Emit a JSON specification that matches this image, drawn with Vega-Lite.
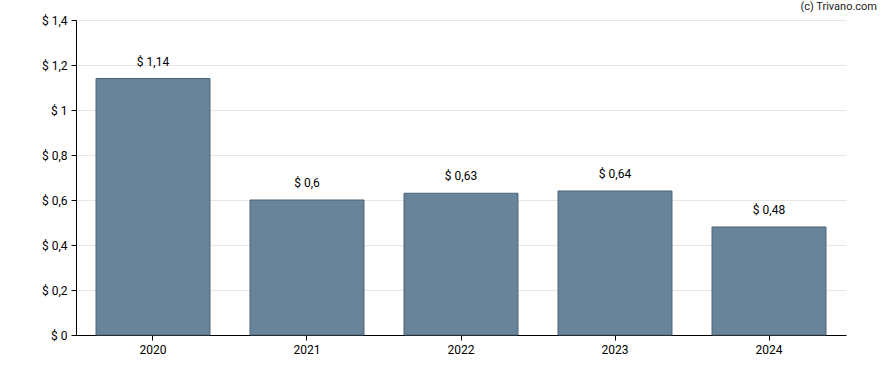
{
  "$schema": "https://vega.github.io/schema/vega-lite/v6.json",
  "width": 770,
  "height": 315,
  "autosize": {"type": "none"},
  "padding": {"left": 76, "top": 20, "right": 42, "bottom": 35},
  "title": {"text": "(c) Trivano.com", "anchor": "end", "dx": 31, "offset": 2, "fontSize": 11, "fontWeight": "normal", "font": "Roboto", "color": "#222222"},
  "data": {"values": [
    {"year": "2020", "value": 1.14},
    {"year": "2021", "value": 0.6},
    {"year": "2022", "value": 0.63},
    {"year": "2023", "value": 0.64},
    {"year": "2024", "value": 0.48}
  ]},
  "encoding": {
    "x": {"field": "year", "type": "nominal", "scale": {"paddingInner": 0.26, "paddingOuter": 0.13},
      "axis": {"title": null, "labelAngle": 0, "domainColor": "#000000", "tickColor": "#000000", "tickSize": 5, "labelFontSize": 12, "labelFont": "Roboto", "labelColor": "#000000", "labelPadding": 4, "grid": false}},
    "y": {"field": "value", "type": "quantitative", "scale": {"domain": [0, 1.4], "nice": false},
      "axis": {"title": null, "values": [0, 0.2, 0.4, 0.6, 0.8, 1, 1.2, 1.4], "format": "$.1~f", "domainColor": "#000000", "tickColor": "#000000", "tickSize": 5, "labelFontSize": 12, "labelFont": "Roboto", "labelColor": "#000000", "gridColor": "#e6e6e6", "labelPadding": 4}}
  },
  "layer": [
    {"mark": {"type": "bar", "fill": "#67849a", "stroke": "#4a6478", "strokeWidth": 1}},
    {"mark": {"type": "text", "baseline": "bottom", "dy": -10, "fontSize": 12, "font": "Roboto", "color": "#000000"},
      "encoding": {"text": {"field": "value", "type": "quantitative", "format": "$.2~f"}}}
  ],
  "config": {
    "view": {"stroke": null},
    "locale": {"number": {"decimal": ",", "thousands": ".", "grouping": [3], "currency": ["$ ", ""]}}
  }
}
